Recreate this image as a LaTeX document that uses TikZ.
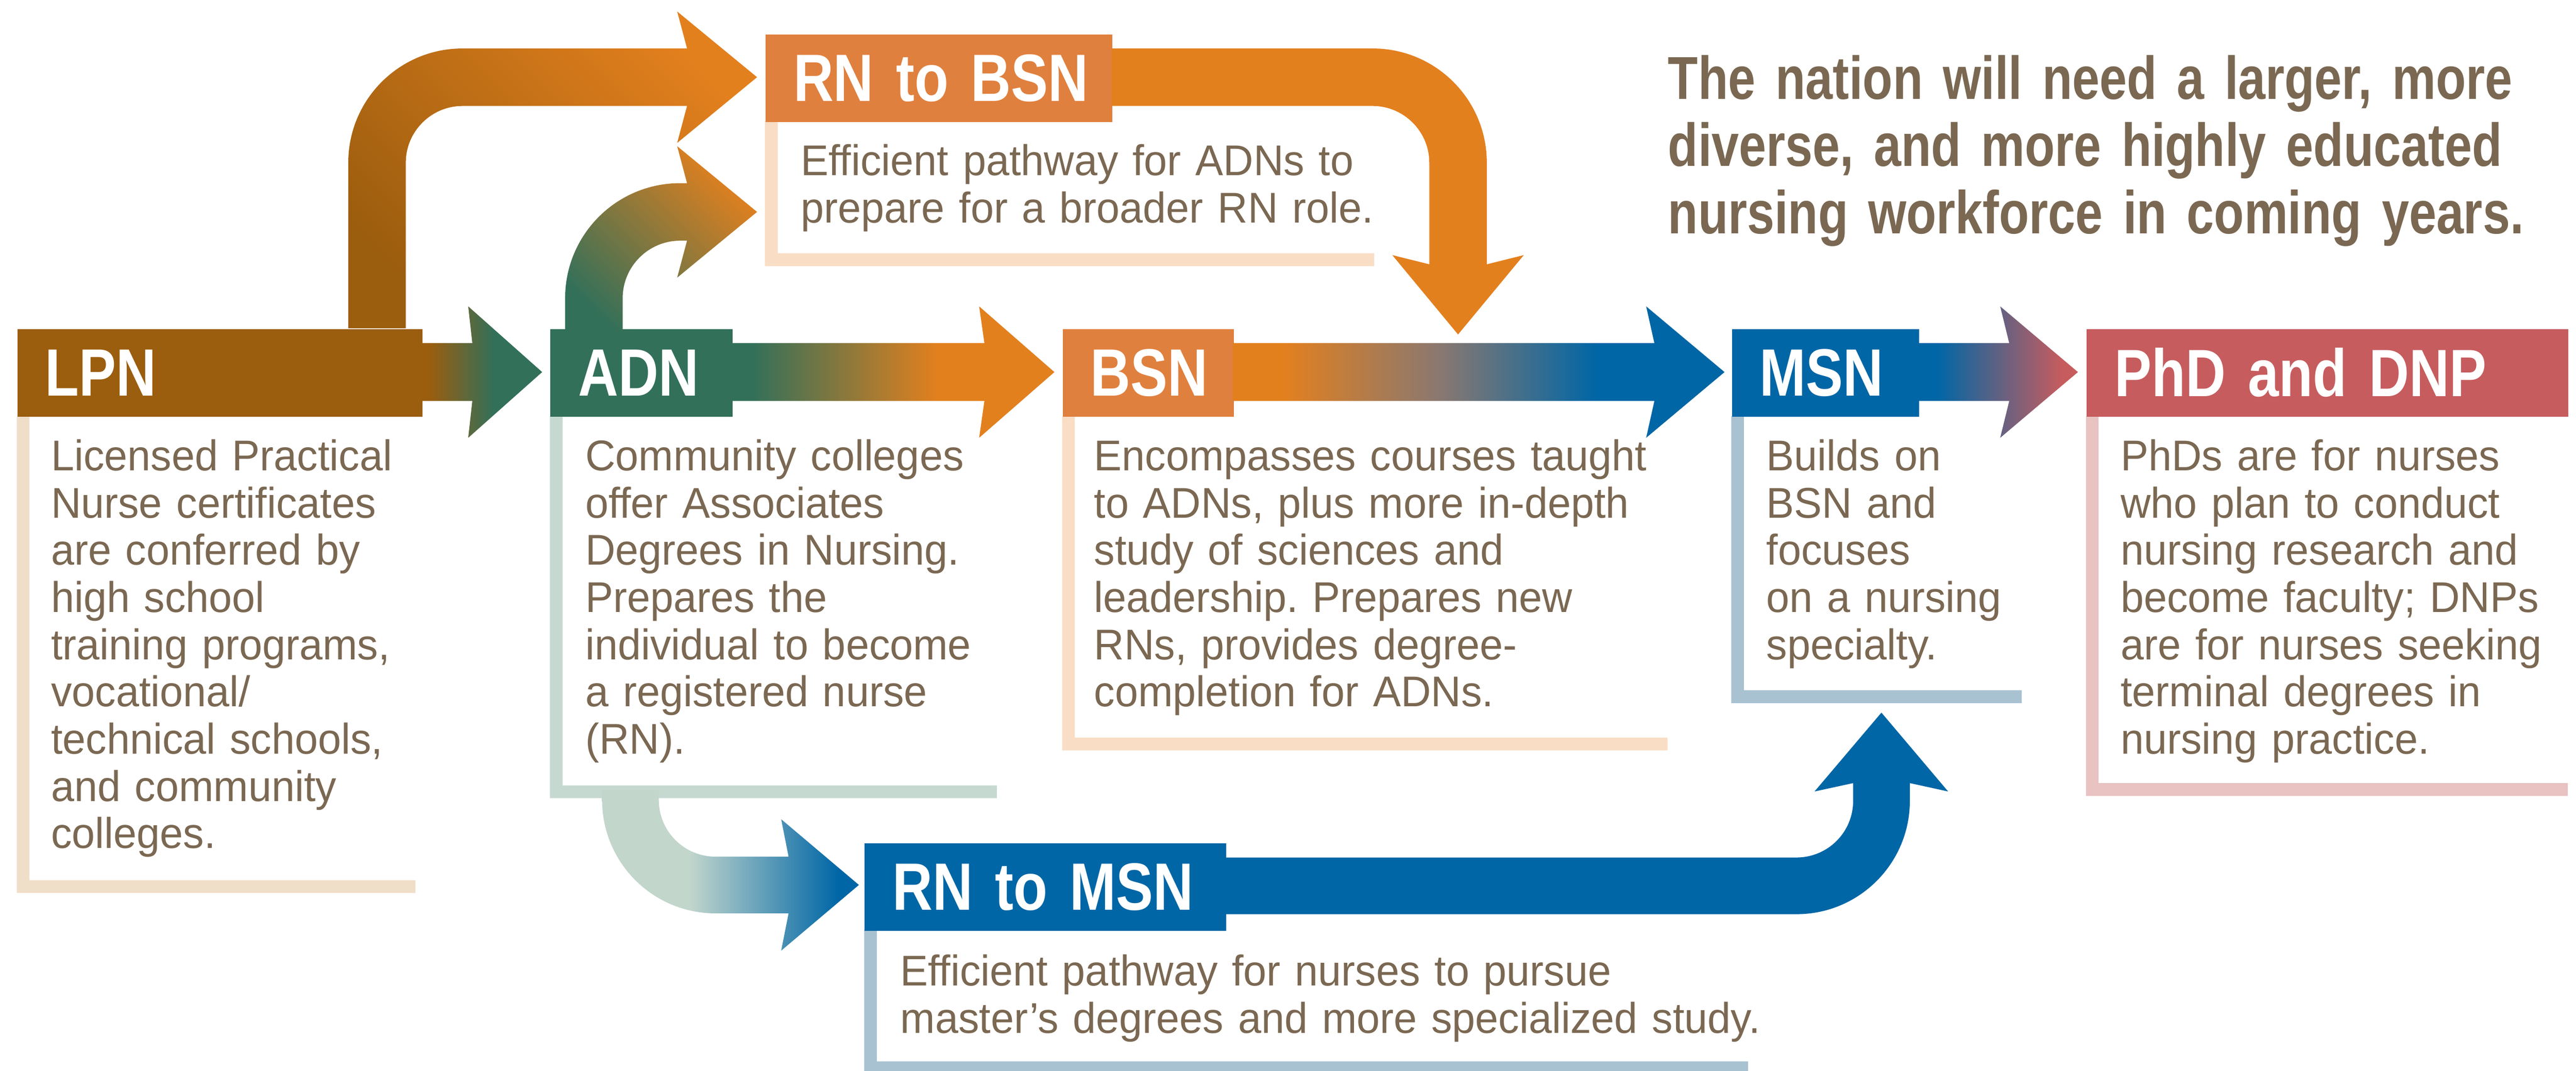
\documentclass[tikz,border=0pt]{standalone}
\usepackage{fontspec}
\setmainfont{Liberation Sans}[FakeStretch=0.97]
\newfontfamily\condfont{Liberation Sans}[FakeStretch=0.83]
\newfontfamily\titlefont{Liberation Sans}[FakeStretch=0.81]
\frenchspacing

\definecolor{lpnbrown}{HTML}{9B5D0E}
\definecolor{adngreen}{HTML}{32705A}
\definecolor{bsnhead}{HTML}{E0803E}
\definecolor{bsnorange}{HTML}{E3801E}
\definecolor{msnblue}{HTML}{0066A6}
\definecolor{phdred}{HTML}{C65C5E}
\definecolor{adnpale}{HTML}{C2D6CC}
\definecolor{midgrey}{HTML}{8A7870}
\definecolor{lpnlite}{HTML}{EFDEC8}
\definecolor{adnlite}{HTML}{C6D9D1}
\definecolor{bsnlite}{HTML}{F9DDC4}
\definecolor{msnlite}{HTML}{A8C2D1}
\definecolor{phdlite}{HTML}{E9C2C2}
\definecolor{txtbrown}{HTML}{7B6852}

\pgfdeclarehorizontalshading{lpnadn}{100bp}{color(0bp)=(lpnbrown); color(28bp)=(lpnbrown); color(55bp)=(adngreen); color(100bp)=(adngreen)}
\pgfdeclarehorizontalshading{adnbsn}{100bp}{color(0bp)=(adngreen); color(28bp)=(adngreen); color(57bp)=(bsnorange); color(100bp)=(bsnorange)}
\pgfdeclarehorizontalshading{bsnmsn}{100bp}{color(0bp)=(bsnorange); color(30bp)=(bsnorange); color(46bp)=(midgrey); color(62bp)=(msnblue); color(100bp)=(msnblue)}
\pgfdeclarehorizontalshading{msnphd}{100bp}{color(0bp)=(msnblue); color(31bp)=(msnblue); color(70bp)=(phdred); color(100bp)=(phdred)}
\pgfdeclarehorizontalshading{adnmsn}{100bp}{color(0bp)=(adnpale); color(42bp)=(adnpale); color(71bp)=(msnblue); color(100bp)=(msnblue)}

\begin{document}
\begin{tikzpicture}[x=0.02cm, y=-0.02cm,
  hdr/.style={anchor=north west, inner xsep=0.34cm, inner ysep=0pt, minimum height=1.066cm,
    text width=#1, align=left, text=white, font=\condfont\bfseries\fontsize{23.2}{24}\selectfont},
  body/.style={anchor=base west, inner sep=0pt, text width=#1, align=left, text=txtbrown,
    font=\fontsize{14.9}{16.36}\selectfont}]
\useasboundingbox (0,0) rectangle (1568,651.8);
\fill[white] (0,0) rectangle (1568,651.8);

% frames under the headers
\fill[lpnlite] (10.2,253.4) -- (17.9,253.4) -- (17.9,535.8) -- (252.9,535.8) -- (252.9,543.6) -- (10.2,543.6) -- cycle;
\fill[adnlite] (334.7,253.4) -- (342.4,253.4) -- (342.4,478.1) -- (606.8,478.1) -- (606.8,485.9) -- (334.7,485.9) -- cycle;
\fill[bsnlite] (646.5,253.4) -- (654.2,253.4) -- (654.2,449) -- (1015,449) -- (1015,456.8) -- (646.5,456.8) -- cycle;
\fill[msnlite] (1053.8,253.4) -- (1061.5,253.4) -- (1061.5,420.2) -- (1230.6,420.2) -- (1230.6,428) -- (1053.8,428) -- cycle;
\fill[phdlite] (1269.7,253.4) -- (1277.4,253.4) -- (1277.4,476.7) -- (1563,476.7) -- (1563,484.5) -- (1269.7,484.5) -- cycle;
\fill[bsnlite] (465.6,73.7) -- (473.4,73.7) -- (473.4,154.2) -- (836.5,154.2) -- (836.5,162) -- (465.6,162) -- cycle;
\fill[msnlite] (526,566) -- (533.7,566) -- (533.7,646.1) -- (1064,646.1) -- (1064,653.9) -- (526,653.9) -- cycle;

% headers
\node[hdr=4.252cm, fill=lpnbrown] (lpn) at (10.2,199.9) {LPN};
\node[hdr=1.536cm, fill=adngreen] (adn) at (334.7,199.9) {ADN};
\node[hdr=1.402cm, fill=bsnhead] (bsn) at (646.5,199.9) {BSN};
\node[hdr=1.6cm, fill=msnblue] (msn) at (1053.8,199.9) {MSN};
\node[hdr=5.186cm, fill=phdred] (phd) at (1269.7,199.9) {PhD~and~DNP};
\node[hdr=3.54cm, fill=bsnhead] (rnbsn) at (465.6,20.6) {RN~to~BSN};
\node[hdr=3.72cm, fill=msnblue] (rnmsn) at (526,513) {RN~to~MSN};

% arrows along the main row
\shade[shading=lpnadn] (256.8,208.9) -- (287.5,208.9) -- (285,186.5) -- (330,226.5) -- (285,266.5) -- (287.5,244.1) -- (256.8,244.1) -- cycle;
\shade[shading=adnbsn] (445.5,208.9) -- (599.2,208.9) -- (596,186.5) -- (641.8,226.5) -- (596,266.5) -- (599.2,244.1) -- (445.5,244.1) -- cycle;
\shade[shading=bsnmsn] (750.6,208.9) -- (1007,208.9) -- (1002,186.5) -- (1049.7,226.5) -- (1002,266.5) -- (1007,244.1) -- (750.6,244.1) -- cycle;
\shade[shading=msnphd] (1167.8,208.9) -- (1223,208.9) -- (1217.5,186.5) -- (1264.8,226.5) -- (1217.5,266.5) -- (1223,244.1) -- (1167.8,244.1) -- cycle;

% bent arrows
\shade[bottom color=lpnbrown, top color=bsnorange, shading angle=-45] (212,199.9) -- (212,99) .. controls (212,60.6) and (243.1,29.5) .. (281.5,29.5) -- (418.2,29.5) -- (412.2,7) -- (460.8,47) -- (412.2,87) -- (418.2,64.5) -- (281.5,64.5) .. controls (262.5,64.5) and (247,80) .. (247,99) -- (247,199.9) -- cycle;
\shade[bottom color=adngreen, top color=bsnorange, shading angle=-45] (344,207) -- (344,181.5) .. controls (344,142.8) and (375.3,111.5) .. (414,111.5) -- (418.2,111.5) -- (412.2,89) -- (460.8,129) -- (412.2,169) -- (418.2,146.5) -- (414,146.5) .. controls (394.7,146.5) and (379,162.2) .. (379,181.5) -- (379,207) -- cycle;
\fill[bsnorange] (676.6,29.5) -- (835.5,29.5) .. controls (873.9,29.5) and (905,60.6) .. (905,99) -- (905,160.9) -- (927.5,155.3) -- (887.5,203.6) -- (847.5,155.3) -- (870,160.9) -- (870,99) .. controls (870,80) and (854.5,64.5) .. (835.5,64.5) -- (676.6,64.5) -- cycle;
\shade[shading=adnmsn] (366.5,481) -- (366.5,487) .. controls (366.5,525.1) and (397.4,556) .. (435.5,556) -- (480,556) -- (475.5,578.7) -- (522.8,538.7) -- (475.5,498.7) -- (480,521.5) -- (435.5,521.5) .. controls (416.5,521.5) and (401,506.1) .. (401,487) -- (401,481) -- cycle;
\fill[msnblue] (746,522) -- (1093.5,522) .. controls (1112.6,522) and (1128,506.6) .. (1128,487.5) -- (1128,476.7) -- (1104.5,481.8) -- (1145.2,433.8) -- (1185.8,481.8) -- (1162.5,476.7) -- (1162.5,487.5) .. controls (1162.5,525.6) and (1131.6,556.5) .. (1093.5,556.5) -- (746,556.5) -- cycle;

% texts
\node[body=4.6cm] (lpntext) at (30.7,286.5) {Licensed Practical\\Nurse certificates\\are conferred by\\high school\\training programs,\\vocational/\\technical schools,\\and community\\colleges.};
\node[body=5.2cm] (adntext) at (356,286.5) {Community colleges\\offer Associates\\Degrees in Nursing.\\Prepares the\\individual to become\\a registered nurse\\(RN).};
\node[body=7.2cm] (bsntext) at (665.6,286.5) {Encompasses courses taught\\to ADNs, plus more in-depth\\study of sciences and\\leadership. Prepares new\\RNs, provides degree-\\completion for ADNs.};
\node[body=3.2cm] (msntext) at (1074.9,286.5) {Builds on\\BSN and\\focuses\\on a nursing\\specialty.};
\node[body=5.4cm] (phdtext) at (1290.5,286.5) {PhDs are for nurses\\who plan to conduct\\nursing research and\\become faculty; DNPs\\are for nurses seeking\\terminal degrees in\\nursing practice.};
\node[body=7.2cm] (rnbsntext) at (487.2,106.8) {Efficient pathway for ADNs to\\prepare for a broader RN role.};
\node[body=11cm] (rnmsntext) at (547.7,600.2) {Efficient pathway for nurses to pursue\\master’s degrees and more specialized study.};
\node[anchor=base west, inner sep=0pt, text width=10.8cm, align=left, text=txtbrown,
  font=\titlefont\bfseries\fontsize{21}{23.3}\selectfont] (title) at (1015,60.3)
  {The nation will need a larger, more\\diverse, and more highly educated\\nursing workforce in coming years.};
\end{tikzpicture}
\end{document}
